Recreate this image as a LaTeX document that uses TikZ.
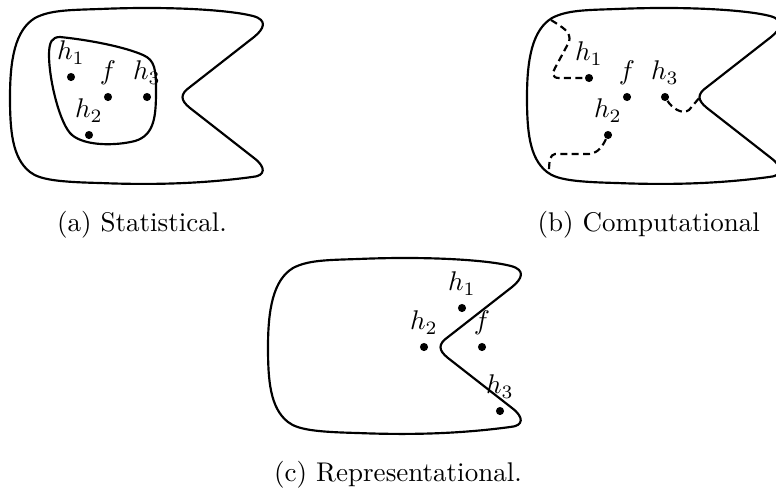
\documentclass[tikz,border=0pt]{standalone}
\usetikzlibrary{positioning}

\begin{document}
\begin{tikzpicture}[
  x=0.37pt, y=-0.37pt,
  outline/.style={thick, line join=round},
  cut/.style={thick, dash pattern=on 2.6pt off 1.6pt},
  dot/.style={circle, fill, inner sep=0pt, minimum size=3pt},
  lbl/.style={anchor=base, inner sep=0pt, yshift=6.3pt},
  caption/.style={anchor=base, inner sep=0pt},
  blob/.pic={
    \draw[outline] (100,9) .. controls (170,6) and (230,10) .. (253,16)
      .. controls (268,20) and (264,29) .. (254,37) -- (190,87)
      .. controls (180,94) and (180,100) .. (190,108) -- (254,158)
      .. controls (266,167) and (266,176) .. (252,177)
      .. controls (200,184) and (150,185) .. (100,183)
      .. controls (60,182) and (40,180) .. (30,172)
      .. controls (12,158) and (10,130) .. (10,97)
      .. controls (10,60) and (15,30) .. (35,18)
      .. controls (50,10) and (70,10) .. (100,9) -- cycle;
  }
]
\useasboundingbox (0,0) rectangle (776,492);
\clip (0,0) rectangle (776,492);

% (a) statistical
\pic at (0,0) {blob};
\draw[outline] (60,37) .. controls (90,40) and (125,47) .. (143,55)
  .. controls (155,60) and (156,70) .. (156,90)
  .. controls (156,115) and (155,135) .. (135,141)
  .. controls (115,146) and (85,146) .. (72,135)
  .. controls (60,125) and (49,80) .. (49,55)
  .. controls (49,42) and (52,37) .. (60,37) -- cycle;
\node[dot] (a-h1) at (71,77) {};
\node[dot] (a-f) at (108,97) {};
\node[dot] (a-h3) at (147,97) {};
\node[dot] (a-h2) at (89,135) {};
\node[lbl] (a-l1) at (a-h1) {$h_1$};
\node[lbl] (a-lf) at (a-f) {$f$};
\node[lbl] (a-l3) at (a-h3) {$h_3$};
\node[lbl] (a-l2) at (a-h2) {$h_2$};
\node[caption] (a-cap) at (142,231) {(a) Statistical.};

% (b) computational
\begin{scope}[shift={(517,0)}]
\pic at (0,0) {blob};
\node[dot] (b-h1) at (72,78) {};
\node[dot] (b-f) at (110,97) {};
\node[dot] (b-h3) at (148,97) {};
\node[dot] (b-h2) at (91,135) {};
\node[lbl] (b-l1) at (b-h1) {$h_1$};
\node[lbl] (b-lf) at (b-f) {$f$};
\node[lbl] (b-l3) at (b-h3) {$h_3$};
\node[lbl] (b-l2) at (b-h2) {$h_2$};
\coordinate (b-top) at (34,20);
\coordinate (b-bot) at (32,173);
\coordinate (b-apex) at (183,97);
\draw[cut] (b-top) .. controls (45,27) and (55,32) .. (52,42) -- (38,68)
  .. controls (35,73) and (35,78) .. (42,78) -- (b-h1);
\draw[cut] (b-h2) .. controls (86,145) and (82,153) .. (72,154) -- (38,154)
  .. controls (33,155) and (32,160) .. (b-bot);
\draw[cut] (b-h3) .. controls (155,108) and (165,115) .. (172,110) -- (b-apex);
\node[caption, anchor=base west] (b-cap) at (20,231) {(b) Computational};
\end{scope}

% (c) representational
\begin{scope}[shift={(258,250)}]
\pic at (0,0) {blob};
\node[dot] (c-h1) at (204,58) {};
\node[dot] (c-h2) at (166,97) {};
\node[dot] (c-f) at (224,97) {};
\node[dot] (c-h3) at (242,161) {};
\node[lbl] (c-l1) at (c-h1) {$h_1$};
\node[lbl] (c-l2) at (c-h2) {$h_2$};
\node[lbl] (c-lf) at (c-f) {$f$};
\node[lbl] (c-l3) at (c-h3) {$h_3$};
\node[caption] (c-cap) at (140,231) {(c) Representational.};
\end{scope}
\end{tikzpicture}
\end{document}
